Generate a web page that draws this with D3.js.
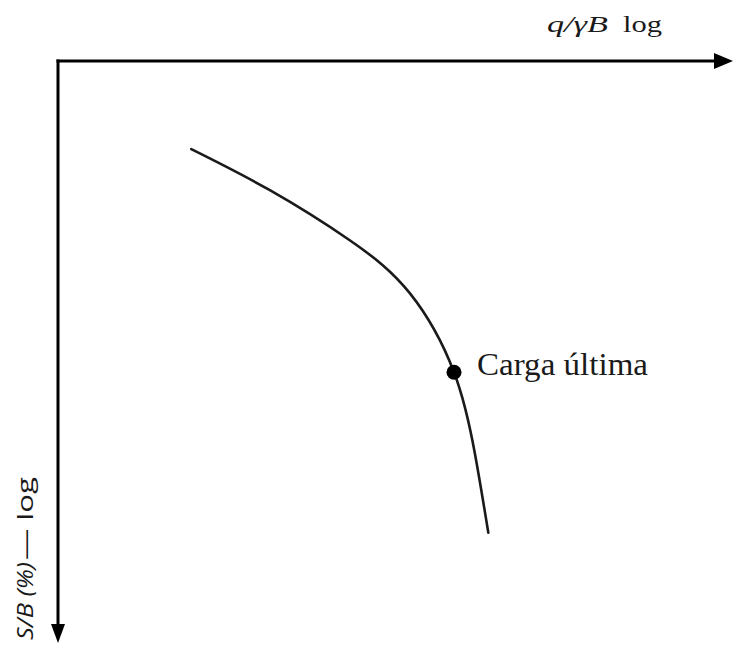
<!DOCTYPE html>
<html>
<head>
<meta charset="utf-8">
<script src="https://cdn.jsdelivr.net/npm/d3@7"></script>
<style>
  html, body { margin: 0; padding: 0; background: #fff; }
  svg { display: block; }
</style>
</head>
<body>
<svg id="chart" width="734" height="645"></svg>
<script>
// Load–settlement curve, both axes in log units (normalised 0–100)
const loadValues = [20.2, 32.1, 44.2, 53.3, 60.0, 63.2, 65.2];
const settlementValues = [15.5, 22.7, 31.5, 40.8, 54.7, 69.2, 82.9];

// Ultimate load point
const ultimateLoad = [60.0];
const ultimateSettlement = [54.7];
const ultimateLabel = ["Carga última"];

const axisLabelX = ["q/γB", "log"];
const axisLabelY = ["S/B (%)", "— log"];

const svg = d3.select("#chart");
const x0 = 58, y0 = 61;

const x = d3.scaleLinear().domain([0, 100]).range([x0, 718]);
const y = d3.scaleLinear().domain([0, 100]).range([y0, 630]);

const serif = "'Liberation Serif', 'Times New Roman', serif";
const sans = "'Open Sans', 'Liberation Sans', Arial, sans-serif";
const ink = "#1a1a1a";

// Axes with arrowheads
svg.append("line")
  .attr("x1", x0 - 1.5).attr("y1", y0).attr("x2", 718).attr("y2", y0)
  .attr("stroke", "#000").attr("stroke-width", 3);
svg.append("path")
  .attr("d", `M733,${y0} L714,${y0 - 8} L714,${y0 + 8} Z`)
  .attr("fill", "#000");

svg.append("line")
  .attr("x1", x0).attr("y1", y0 - 1.5).attr("x2", x0).attr("y2", 628)
  .attr("stroke", "#000").attr("stroke-width", 3);
svg.append("path")
  .attr("d", `M${x0},643 L${x0 - 7},624 L${x0 + 7},624 Z`)
  .attr("fill", "#000");

// Curve
const pts = loadValues.map((v, i) => [v, settlementValues[i]]);
svg.append("path")
  .datum(pts)
  .attr("d", d3.line().x(d => x(d[0])).y(d => y(d[1])).curve(d3.curveNatural))
  .attr("fill", "none")
  .attr("stroke", ink)
  .attr("stroke-width", 2.6)
  .attr("stroke-linecap", "round");

// Ultimate load marker and label
const ult = ultimateLoad.map((v, i) => [v, ultimateSettlement[i], ultimateLabel[i]]);
svg.selectAll("circle.ult")
  .data(ult)
  .join("circle")
  .attr("class", "ult")
  .attr("cx", d => x(d[0])).attr("cy", d => y(d[1]))
  .attr("r", 7.5)
  .attr("fill", "#000");

svg.selectAll("text.ult")
  .data(ult)
  .join("text")
  .attr("class", "ult")
  .attr("x", d => x(d[0]) + 23).attr("y", d => y(d[1]) + 3)
  .attr("font-family", serif)
  .attr("font-size", 32)
  .attr("textLength", 171)
  .attr("lengthAdjust", "spacingAndGlyphs")
  .attr("fill", ink)
  .text(d => d[2]);

// Horizontal axis title
svg.append("text")
  .attr("x", 547).attr("y", 32)
  .attr("font-family", serif).attr("font-style", "italic")
  .attr("font-size", 24)
  .attr("textLength", 61).attr("lengthAdjust", "spacingAndGlyphs")
  .attr("fill", ink)
  .text(axisLabelX[0]);
svg.append("text")
  .attr("x", 623).attr("y", 32)
  .attr("font-family", serif)
  .attr("font-size", 24)
  .attr("textLength", 39).attr("lengthAdjust", "spacingAndGlyphs")
  .attr("fill", ink)
  .text(axisLabelX[1]);

// Vertical axis title (rotated)
const yt = svg.append("g").attr("transform", "translate(33,640) rotate(-90)");
yt.append("text")
  .attr("x", 0).attr("y", 0)
  .attr("font-family", sans).attr("font-style", "italic")
  .attr("font-size", 21)
  .attr("textLength", 78).attr("lengthAdjust", "spacingAndGlyphs")
  .attr("fill", ink)
  .text(axisLabelY[0]);
yt.append("text")
  .attr("x", 80).attr("y", 0)
  .attr("font-family", sans)
  .attr("font-size", 21)
  .attr("textLength", 83).attr("lengthAdjust", "spacingAndGlyphs")
  .attr("fill", ink)
  .text(axisLabelY[1]);
</script>
</body>
</html>
